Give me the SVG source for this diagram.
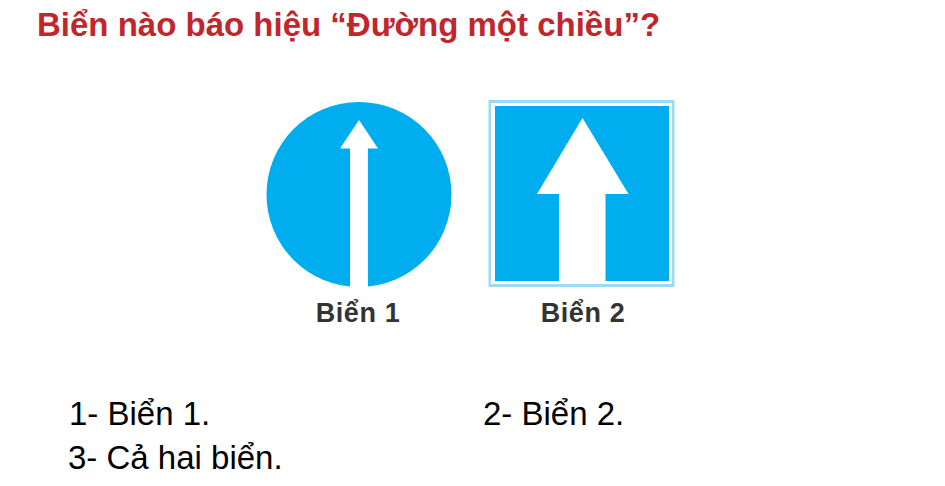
<svg xmlns="http://www.w3.org/2000/svg" width="945" height="486" viewBox="0 0 945 486">
<style>
text{font-family:"Liberation Sans",Arial,sans-serif}
.t{font-size:33px;font-weight:bold;fill:#c0272d}
.o{font-size:33px;fill:#000}
.l{font-size:27px;font-weight:bold;fill:#333;letter-spacing:.6px}
.s{fill:#00aeef}
</style>
<rect width="945" height="486" fill="#fff"/>
<text class="t" x="37" y="36">Biển nào báo hiệu “Đường một chiều”?</text>
<g id="sign1">
<circle class="s" cx="359" cy="194.5" r="92.5"/>
<path fill="#fff" d="M359 120L378 148.500H368V287H350V148.500H340Z"/>
<text class="l" x="358" y="322" text-anchor="middle">Biển 1</text>
</g>
<g id="sign2">
<rect x="488.500" y="100" width="186" height="187" fill="#9bdcf0"/>
<rect x="491" y="103" width="181" height="181" fill="#fff"/>
<rect class="s" x="495" y="106" width="174" height="175"/>
<path fill="#fff" d="M582.500 118L628.500 194H605.500V282.500H559V194H537Z"/>
<text class="l" x="583" y="322" text-anchor="middle">Biển 2</text>
</g>
<text class="o" x="69" y="425">1- Biển 1.</text>
<text class="o" x="483" y="425">2- Biển 2.</text>
<text class="o" x="68" y="469">3- Cả hai biển.</text>
</svg>
